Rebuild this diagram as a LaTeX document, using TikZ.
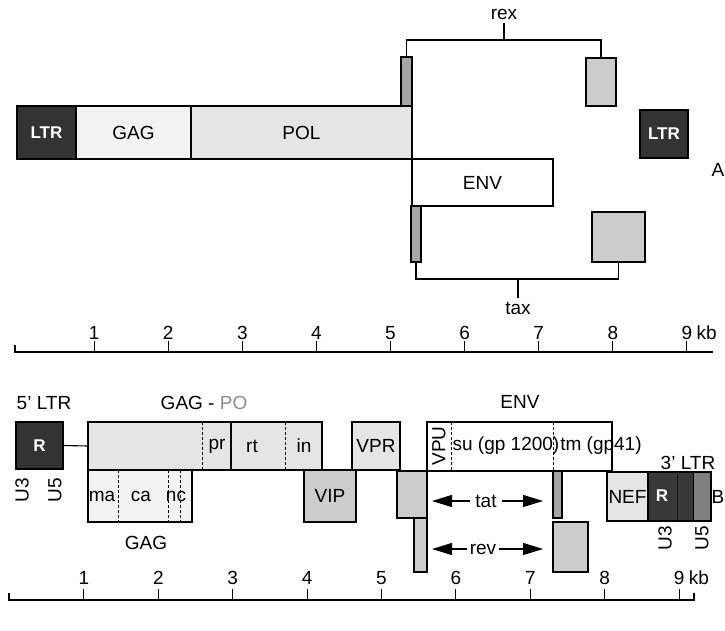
\documentclass[tikz,border=0pt]{standalone}
\usepackage{fontspec}
\setmainfont{Liberation Sans}
\usetikzlibrary{arrows.meta}
\newcommand\gbox[7]{%
  \pgfmathsetmacro\gw{#4-#2}\pgfmathsetmacro\gh{#5-#3}%
  \node[bx,#6,minimum width=\gw pt,minimum height=\gh pt] (#1) at ({(#2+#4)/2},{(#3+#5)/2}) {#7};}
\begin{document}
\begin{tikzpicture}[x=1pt,y=-1pt,
  lab/.style={font=\fontsize{19}{22}\selectfont, inner sep=0pt},
  bx/.style={draw=black, line width=1.1pt, inner sep=0pt, outer sep=0pt, font=\fontsize{19}{22}\selectfont},
  dark/.style={fill=black!80, text=white, font=\fontsize{17}{20}\selectfont\bfseries},
  g1/.style={fill=black!5},
  g2/.style={fill=black!10},
  g3/.style={fill=black!20},
  g4/.style={fill=black!35},
  ln/.style={line width=1.1pt},
  div/.style={line width=0.9pt, dashed, dash pattern=on 3pt off 2pt},
  bigarrow/.style={line width=1.1pt, -{Triangle[length=20pt,width=12pt]}},
  axis/.style={line width=1.1pt}
]
\useasboundingbox (0,0) rectangle (725,630);

% ---------------- Part A ----------------
\gbox{ltrA}{17}{106}{76}{159}{dark}{LTR}
\gbox{gagA}{76}{106}{191}{159}{g1}{GAG}
\gbox{polA}{191}{106}{412}{159}{g2}{POL}
\gbox{rexA}{401}{57}{412}{106}{g4}{}
\gbox{rexB}{586}{58}{616}{106}{g3}{}
\gbox{ltrB}{640}{110}{688}{158}{dark}{LTR}
\gbox{envA}{412}{159}{553}{206}{fill=white}{ENV}
\gbox{taxA}{411}{206}{421}{262}{g4}{}
\gbox{taxB}{592}{212}{645}{262}{g3}{}

\node[lab] (rexlab) at (504,14) {rex};
\coordinate (rexbar) at (504,40);
\draw[ln] (rexA.north) -- (rexA.north |- rexbar) -- (rexB.north |- rexbar) -- (rexB.north);
\draw[ln] (rexbar) -- ([yshift=-4pt]rexlab.south);

\node[lab] (taxlab) at (518,308) {tax};
\coordinate (taxbar) at (518,279);
\draw[ln] (taxA.south) -- (taxA.south |- taxbar) -- (taxB.south |- taxbar) -- (taxB.south);
\draw[ln] (taxbar) -- ([yshift=4pt]taxlab.north);

\node[lab, anchor=east] (labA) at (724.5,170) {A};

% top axis
\coordinate (ta0) at (15,352);
\coordinate (taE) at (713,352);
\draw[axis] (15,345) -- (ta0) -- (taE);
\foreach \k in {1,...,9}{
  \pgfmathsetmacro\xx{20+74.1*\k}
  \draw[axis] (\xx,352) -- (\xx,341);
  \node[lab] (tn\k) at (\xx,333) {\k};
}
\node[lab, anchor=west] (tkb) at ([xshift=4pt]tn9.east) {kb};

% ---------------- Part B ----------------
\node[lab] (ltr5lab) at (44,403) {5' LTR};
\node[lab] (gagpolab) at (204,403) {GAG - {\color{black!45}PO}};
\node[lab] (envlab) at (520,402) {ENV};
\node[lab] (ltr3lab) at (688,463) {3' LTR};

\gbox{R5}{16}{422}{63}{469}{dark}{R}
\gbox{gagpol}{88}{422}{322}{470}{g2}{}
\draw[ln] (R5.east) -- (gagpol.west);
\draw[div] (202,422) -- (202,470);
\draw[ln] (231,422) -- (231,470);
\draw[div] (285,422) -- (285,470);
\node[lab] (pr) at (217,446) {pr};
\node[lab] (rt) at (252,446) {rt};
\node[lab] (in) at (304,446) {in};

\gbox{gagB}{88}{470}{192}{522}{g1}{}
\draw[div] (118,470) -- (118,522);
\draw[div] (168,470) -- (168,522);
\draw[div] (180,470) -- (180,522);
\node[lab] (ma) at (102,496) {ma};
\node[lab] (ca) at (141,496) {ca};
\node[lab] (nc) at (176,496) {nc};
\node[lab] (gaglab) at (146,543) {GAG};

\node[lab, rotate=90] (u3a) at (22,490) {U3};
\node[lab, rotate=90] (u5a) at (55,490) {U5};

\gbox{vip}{304}{470}{356}{522}{g3}{VIP}
\gbox{vpr}{352}{422}{400}{470}{g2}{VPR}

\gbox{envB}{427}{422}{612}{471}{fill=white}{}
\draw[div] (451,422) -- (451,471);
\draw[div] (553,422) -- (553,471);
\node[lab, rotate=90] (vpu) at (439,446) {VPU};
\node[lab] (su) at (506,446) {su (gp 1200)};
\node[lab] (tm) at (601,446) {tm (gp41)};

\gbox{tat1}{397}{471}{427}{518}{g3}{}
\gbox{rev1}{414}{518}{427}{572}{g3}{}
\gbox{tat2}{553}{471}{562}{518}{g4}{}
\gbox{rev2}{553}{522}{588}{572}{g3}{}

\node[lab] (tat) at (486,501) {tat};
\node[lab] (rev) at (483,549) {rev};
\coordinate (tatL) at (432,501);
\coordinate (tatR) at (543,501);
\coordinate (revL) at (432,549);
\coordinate (revR) at (543,549);
\draw[bigarrow] ([xshift=-5pt]tat.west) -- (tatL);
\draw[bigarrow] ([xshift=5pt]tat.east) -- (tatR);
\draw[bigarrow] ([xshift=-3pt]rev.west) -- (revL);
\draw[bigarrow] ([xshift=3pt]rev.east) -- (revR);

\gbox{nef}{607}{472}{648}{521}{g2}{NEF}
\gbox{ltr3}{648}{472}{711}{521}{fill=black!78}{}
\fill[black!50] (693,473) rectangle (710.5,520.5);
\draw[ln] (648,472) rectangle (711,521);
\draw[line width=0.8pt, black!90] (677,472) -- (677,521);
\draw[line width=0.8pt] (693,472) -- (693,521);
\node[lab, text=white, font=\fontsize{17}{20}\selectfont\bfseries] (r3) at (662,496) {R};

\node[lab, rotate=90] (u3b) at (665,538) {U3};
\node[lab, rotate=90] (u5b) at (702,538) {U5};

\node[lab, anchor=east] (labB) at (724.5,497) {B};

% bottom axis
\coordinate (ba0) at (9,600);
\coordinate (baE) at (694,600);
\draw[axis] (9,593) -- (ba0) -- (baE) -- (694,593);
\foreach \k in {1,...,9}{
  \pgfmathsetmacro\xx{9.5+74.4*\k}
  \draw[axis] (\xx,600) -- (\xx,589);
  \node[lab] (bn\k) at (\xx,578) {\k};
}
\node[lab, anchor=west] (bkb) at ([xshift=4pt]bn9.east) {kb};
\end{tikzpicture}
\end{document}
